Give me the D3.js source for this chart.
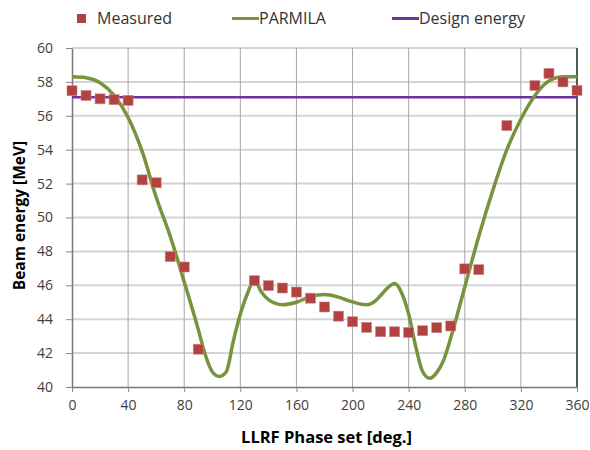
<!DOCTYPE html>
<html>
<head>
<meta charset="utf-8">
<script src="https://cdn.jsdelivr.net/npm/d3@7"></script>
<style>
  body { margin: 0; background: #fff; }
  svg { font-family: "Open Sans", "Noto Sans", sans-serif; }
</style>
</head>
<body>
<svg id="chart" width="590" height="450"></svg>
<script>
// measured beam energy vs LLRF phase
const measuredPhase = [0, 10, 20, 30, 40, 50, 60, 70, 80, 90,
    130, 140, 150, 160, 170, 180, 190, 200, 210, 220, 230, 240, 250, 260, 270,
    280, 290, 310, 330, 340, 350, 360];
const measuredEnergy = [57.48, 57.2, 57.0, 56.95, 56.91, 52.22, 52.05, 47.69, 47.08, 42.23,
    46.27, 45.98, 45.84, 45.6, 45.24, 44.72, 44.18, 43.85, 43.52, 43.26, 43.26, 43.22, 43.32, 43.5, 43.6,
    46.97, 46.92, 55.42, 57.78, 58.5, 58.0, 57.5];

// PARMILA simulation curve
const parmilaPhase = [0, 10, 20, 30, 40, 50, 60, 70, 80, 90, 95, 100, 105, 110, 115, 120, 125,
    130, 135, 140, 150, 160, 170, 180, 190, 200, 210, 215, 220, 225, 230, 235, 240, 245,
    250, 255, 260, 265, 270, 280, 290, 300, 310, 320, 330, 340, 350, 360];
const parmilaEnergy = [58.3, 58.25, 57.95, 57.2, 55.9, 53.9, 51.2, 48.9, 46.2, 43.4, 41.9, 40.9, 40.62, 40.9, 42.7, 44.3, 45.5,
    46.3, 45.6, 45.15, 44.85, 45.0, 45.33, 45.45, 45.3, 45.02, 44.85, 45.0, 45.4, 45.85, 46.1, 45.55, 44.3, 42.4,
    40.9, 40.52, 40.85, 41.6, 42.9, 45.9, 48.9, 51.6, 54.0, 55.8, 57.2, 58.05, 58.3, 58.3];

const designEnergy = 57.1;

const xTicks = [0, 40, 80, 120, 160, 200, 240, 280, 320, 360];
const yTicks = [40, 42, 44, 46, 48, 50, 52, 54, 56, 58, 60];

const seriesNames = ["Measured", "PARMILA", "Design energy"];
const colors = {measured: "#b2413f", parmila: "#77933c", design: "#7030a0"};

const margin = {top: 48, right: 13, bottom: 63, left: 72},
    width = 590 - margin.left - margin.right,
    height = 450 - margin.top - margin.bottom;

const svg = d3.select("#chart");
const g = svg.append("g")
    .attr("transform", `translate(${margin.left},${margin.top})`);

const x = d3.scaleLinear().domain([0, 360]).range([0, width]);
const y = d3.scaleLinear().domain([40, 60]).range([height, 0]);

// horizontal gridlines
g.append("g")
    .selectAll("line")
    .data(yTicks.filter(d => d > 40))
    .join("line")
    .attr("x1", 0).attr("x2", width)
    .attr("y1", d => y(d)).attr("y2", d => y(d))
    .attr("stroke", "#d4d4d4")
    .attr("stroke-width", 2);

// vertical gridlines
g.append("g")
    .selectAll("line")
    .data(xTicks.filter(d => d > 0 && d < 360))
    .join("line")
    .attr("x1", d => x(d)).attr("x2", d => x(d))
    .attr("y1", 0).attr("y2", height)
    .attr("stroke", "#a6a6a6")
    .attr("stroke-width", 1);

// right border
g.append("line")
    .attr("x1", x(360)).attr("x2", x(360))
    .attr("y1", 0).attr("y2", height)
    .attr("stroke", "#222")
    .attr("stroke-width", 1.5);

// axes
const xAxis = g.append("g")
    .attr("transform", `translate(0,${height})`)
    .call(d3.axisBottom(x).tickValues(xTicks).tickSize(5).tickSizeOuter(0).tickPadding(8));
const yAxis = g.append("g")
    .call(d3.axisLeft(y).tickValues(yTicks).tickSize(6).tickSizeOuter(0).tickPadding(13));

[xAxis, yAxis].forEach(a => {
    a.select(".domain").attr("stroke", "#777").attr("stroke-width", 1.5);
    a.selectAll(".tick line").attr("stroke", "#888");
    a.selectAll(".tick text")
        .attr("fill", "#404040")
        .style("font-size", "14px")
        .style("font-family", "'Open Sans', 'Noto Sans', sans-serif");
});

// axis labels
g.append("text")
    .attr("x", width / 2 + 2)
    .attr("y", height + 56)
    .attr("text-anchor", "middle")
    .style("font-size", "16.5px")
    .style("font-weight", "bold")
    .text("LLRF Phase set [deg.]");

g.append("text")
    .attr("transform", "rotate(-90)")
    .attr("x", -height / 2 + 2)
    .attr("y", -47)
    .attr("text-anchor", "middle")
    .style("font-size", "15.5px")
    .style("font-weight", "bold")
    .text("Beam energy [MeV]");

// design energy line
g.append("line")
    .attr("x1", x(0)).attr("x2", x(360))
    .attr("y1", y(designEnergy)).attr("y2", y(designEnergy))
    .attr("stroke", colors.design)
    .attr("stroke-width", 2.5);

// PARMILA curve
const parmilaData = parmilaPhase.map((p, i) => ({phase: p, energy: parmilaEnergy[i]}));
const line = d3.line()
    .x(d => x(d.phase))
    .y(d => y(d.energy))
    .curve(d3.curveMonotoneX);

g.append("path")
    .datum(parmilaData)
    .attr("fill", "none")
    .attr("stroke", colors.parmila)
    .attr("stroke-width", 3.5)
    .attr("d", line);

// measured points
const measuredData = measuredPhase.map((p, i) => ({phase: p, energy: measuredEnergy[i]}));
const sq = 10;
g.append("g")
    .selectAll("rect")
    .data(measuredData)
    .join("rect")
    .attr("x", d => x(d.phase) - sq / 2)
    .attr("y", d => y(d.energy) - sq / 2)
    .attr("width", sq)
    .attr("height", sq)
    .attr("fill", colors.measured)
    .attr("stroke", "#c98a88")
    .attr("stroke-width", 0.6);

// legend
const legend = svg.append("g").style("font-size", "16px").attr("fill", "#333");
legend.append("rect")
    .attr("x", 77).attr("y", 14).attr("width", 9).attr("height", 9)
    .attr("fill", colors.measured);
legend.append("text").attr("x", 97).attr("y", 24).text(seriesNames[0]);

legend.append("line")
    .attr("x1", 232).attr("x2", 259).attr("y1", 18.5).attr("y2", 18.5)
    .attr("stroke", colors.parmila).attr("stroke-width", 3);
legend.append("text").attr("x", 259).attr("y", 24).text(seriesNames[1]);

legend.append("line")
    .attr("x1", 392).attr("x2", 419).attr("y1", 18.5).attr("y2", 18.5)
    .attr("stroke", colors.design).attr("stroke-width", 3);
legend.append("text").attr("x", 419).attr("y", 24).text(seriesNames[2]);
</script>
</body>
</html>
